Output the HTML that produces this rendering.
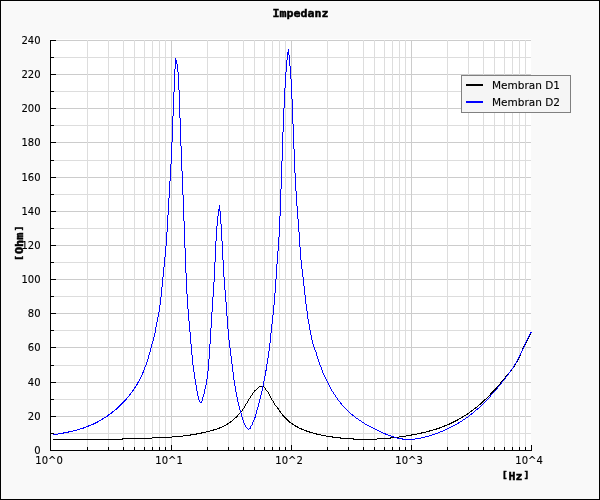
<!DOCTYPE html>
<html><head><meta charset="utf-8"><title>Impedanz</title>
<style>
html,body{margin:0;padding:0;background:#f9f9f9;}
body{width:600px;height:500px;overflow:hidden;}
svg{display:block;}
.tk{font-family:"DejaVu Sans","Liberation Sans",sans-serif;font-size:10px;fill:#000;stroke:#000;stroke-width:0.12px;}
.lg{font-family:"DejaVu Sans","Liberation Sans",sans-serif;font-size:10.5px;fill:#000;stroke:#000;stroke-width:0.12px;}
.tt{font-family:"DejaVu Sans Mono","Liberation Mono",monospace;font-weight:bold;font-size:11px;fill:#000;stroke:#000;stroke-width:0.45px;}
.bk{font-size:9.4px;}
</style></head><body>
<svg width="600" height="500" viewBox="0 0 600 500">
<rect x="0" y="0" width="600" height="500" fill="#f9f9f9"/>
<rect x="50" y="39" width="481" height="412" fill="#ffffff"/>

<g shape-rendering="crispEdges" stroke-width="1" fill="none">
<line x1="51" x2="531" y1="433.5" y2="433.5" stroke="#dddddd"/>
<line x1="51" x2="531" y1="416.5" y2="416.5" stroke="#cccccc"/>
<line x1="51" x2="531" y1="399.5" y2="399.5" stroke="#dddddd"/>
<line x1="51" x2="531" y1="382.5" y2="382.5" stroke="#cccccc"/>
<line x1="51" x2="531" y1="365.5" y2="365.5" stroke="#dddddd"/>
<line x1="51" x2="531" y1="347.5" y2="347.5" stroke="#cccccc"/>
<line x1="51" x2="531" y1="330.5" y2="330.5" stroke="#dddddd"/>
<line x1="51" x2="531" y1="313.5" y2="313.5" stroke="#cccccc"/>
<line x1="51" x2="531" y1="296.5" y2="296.5" stroke="#dddddd"/>
<line x1="51" x2="531" y1="279.5" y2="279.5" stroke="#cccccc"/>
<line x1="51" x2="531" y1="262.5" y2="262.5" stroke="#dddddd"/>
<line x1="51" x2="531" y1="245.5" y2="245.5" stroke="#cccccc"/>
<line x1="51" x2="531" y1="228.5" y2="228.5" stroke="#dddddd"/>
<line x1="51" x2="531" y1="211.5" y2="211.5" stroke="#cccccc"/>
<line x1="51" x2="531" y1="194.5" y2="194.5" stroke="#dddddd"/>
<line x1="51" x2="531" y1="177.5" y2="177.5" stroke="#cccccc"/>
<line x1="51" x2="531" y1="160.5" y2="160.5" stroke="#dddddd"/>
<line x1="51" x2="531" y1="142.5" y2="142.5" stroke="#cccccc"/>
<line x1="51" x2="531" y1="125.5" y2="125.5" stroke="#dddddd"/>
<line x1="51" x2="531" y1="108.5" y2="108.5" stroke="#cccccc"/>
<line x1="51" x2="531" y1="91.5" y2="91.5" stroke="#dddddd"/>
<line x1="51" x2="531" y1="74.5" y2="74.5" stroke="#cccccc"/>
<line x1="51" x2="531" y1="57.5" y2="57.5" stroke="#dddddd"/>
<line x1="51" x2="531" y1="40.5" y2="40.5" stroke="#cccccc"/>
<line y1="40" y2="450" x1="87.5" x2="87.5" stroke="#dddddd"/>
<line y1="40" y2="450" x1="108.5" x2="108.5" stroke="#dddddd"/>
<line y1="40" y2="450" x1="123.5" x2="123.5" stroke="#dddddd"/>
<line y1="40" y2="450" x1="134.5" x2="134.5" stroke="#dddddd"/>
<line y1="40" y2="450" x1="144.5" x2="144.5" stroke="#dddddd"/>
<line y1="40" y2="450" x1="152.5" x2="152.5" stroke="#dddddd"/>
<line y1="40" y2="450" x1="159.5" x2="159.5" stroke="#dddddd"/>
<line y1="40" y2="450" x1="165.5" x2="165.5" stroke="#dddddd"/>
<line y1="40" y2="450" x1="171.5" x2="171.5" stroke="#cccccc"/>
<line y1="40" y2="450" x1="207.5" x2="207.5" stroke="#dddddd"/>
<line y1="40" y2="450" x1="228.5" x2="228.5" stroke="#dddddd"/>
<line y1="40" y2="450" x1="243.5" x2="243.5" stroke="#dddddd"/>
<line y1="40" y2="450" x1="254.5" x2="254.5" stroke="#dddddd"/>
<line y1="40" y2="450" x1="264.5" x2="264.5" stroke="#dddddd"/>
<line y1="40" y2="450" x1="272.5" x2="272.5" stroke="#dddddd"/>
<line y1="40" y2="450" x1="279.5" x2="279.5" stroke="#dddddd"/>
<line y1="40" y2="450" x1="285.5" x2="285.5" stroke="#dddddd"/>
<line y1="40" y2="450" x1="291.5" x2="291.5" stroke="#cccccc"/>
<line y1="40" y2="450" x1="327.5" x2="327.5" stroke="#dddddd"/>
<line y1="40" y2="450" x1="348.5" x2="348.5" stroke="#dddddd"/>
<line y1="40" y2="450" x1="363.5" x2="363.5" stroke="#dddddd"/>
<line y1="40" y2="450" x1="374.5" x2="374.5" stroke="#dddddd"/>
<line y1="40" y2="450" x1="384.5" x2="384.5" stroke="#dddddd"/>
<line y1="40" y2="450" x1="392.5" x2="392.5" stroke="#dddddd"/>
<line y1="40" y2="450" x1="399.5" x2="399.5" stroke="#dddddd"/>
<line y1="40" y2="450" x1="405.5" x2="405.5" stroke="#dddddd"/>
<line y1="40" y2="450" x1="411.5" x2="411.5" stroke="#cccccc"/>
<line y1="40" y2="450" x1="447.5" x2="447.5" stroke="#dddddd"/>
<line y1="40" y2="450" x1="468.5" x2="468.5" stroke="#dddddd"/>
<line y1="40" y2="450" x1="483.5" x2="483.5" stroke="#dddddd"/>
<line y1="40" y2="450" x1="494.5" x2="494.5" stroke="#dddddd"/>
<line y1="40" y2="450" x1="504.5" x2="504.5" stroke="#dddddd"/>
<line y1="40" y2="450" x1="512.5" x2="512.5" stroke="#dddddd"/>
<line y1="40" y2="450" x1="519.5" x2="519.5" stroke="#dddddd"/>
<line y1="40" y2="450" x1="525.5" x2="525.5" stroke="#dddddd"/>
</g>
<path d="M53.5 439v1M54.5 439v1M55.5 439v1M56.5 439v1M57.5 439v1M58.5 439v1M59.5 439v1M60.5 439v1M61.5 439v1M62.5 439v1M63.5 439v1M64.5 439v1M65.5 439v1M66.5 439v1M67.5 439v1M68.5 439v1M69.5 439v1M70.5 439v1M71.5 439v1M72.5 439v1M73.5 439v1M74.5 439v1M75.5 439v1M76.5 439v1M77.5 439v1M78.5 439v1M79.5 439v1M80.5 439v1M81.5 439v1M82.5 439v1M83.5 439v1M84.5 439v1M85.5 439v1M86.5 439v1M87.5 439v1M88.5 439v1M89.5 439v1M90.5 439v1M91.5 439v1M92.5 439v1M93.5 439v1M94.5 439v1M95.5 439v1M96.5 439v1M97.5 439v1M98.5 439v1M99.5 439v1M100.5 439v1M101.5 439v1M102.5 439v1M103.5 439v1M104.5 439v1M105.5 439v1M106.5 439v1M107.5 439v1M108.5 439v1M109.5 439v1M110.5 439v1M111.5 439v1M112.5 439v1M113.5 439v1M114.5 439v1M115.5 439v1M116.5 439v1M117.5 439v1M118.5 439v1M119.5 439v1M120.5 439v1M121.5 439v1M122.5 438v2M123.5 438v1M124.5 438v1M125.5 438v1M126.5 438v1M127.5 438v1M128.5 438v1M129.5 438v1M130.5 438v1M131.5 438v1M132.5 438v1M133.5 438v1M134.5 438v1M135.5 438v1M136.5 438v1M137.5 438v1M138.5 438v1M139.5 438v1M140.5 438v1M141.5 438v1M142.5 438v1M143.5 438v1M144.5 438v1M145.5 438v1M146.5 438v1M147.5 438v1M148.5 438v1M149.5 438v1M150.5 438v1M151.5 438v1M152.5 437v1M153.5 437v1M154.5 437v1M155.5 437v1M156.5 437v1M157.5 437v1M158.5 437v1M159.5 437v1M160.5 437v1M161.5 437v1M162.5 437v1M163.5 437v1M164.5 437v1M165.5 437v1M166.5 437v1M167.5 437v1M168.5 437v1M169.5 437v1M170.5 437v1M171.5 437v1M172.5 436v1M173.5 436v1M174.5 436v1M175.5 436v1M176.5 436v1M177.5 436v1M178.5 436v1M179.5 436v1M180.5 436v1M181.5 436v1M182.5 436v1M183.5 435v1M184.5 435v1M185.5 435v1M186.5 435v1M187.5 435v1M188.5 435v1M189.5 435v1M190.5 434v2M191.5 434v1M192.5 434v1M193.5 434v1M194.5 434v1M195.5 434v1M196.5 433v2M197.5 433v1M198.5 433v1M199.5 433v1M200.5 433v1M201.5 432v2M202.5 432v1M203.5 432v1M204.5 432v1M205.5 432v1M206.5 431v1M207.5 431v1M208.5 431v1M209.5 431v1M210.5 430v1M211.5 430v1M212.5 430v1M213.5 429v2M214.5 429v1M215.5 429v1M216.5 429v1M217.5 428v1M218.5 428v1M219.5 427v2M220.5 427v1M221.5 427v1M222.5 426v1M223.5 426v1M224.5 425v1M225.5 425v1M226.5 424v1M227.5 423v2M228.5 423v1M229.5 422v1M230.5 421v2M231.5 421v1M232.5 420v1M233.5 419v1M234.5 418v1M235.5 417v1M236.5 416v2M237.5 415v2M238.5 414v1M239.5 413v1M240.5 412v1M241.5 411v1M242.5 409v2M243.5 408v1M244.5 406v2M245.5 404v2M246.5 403v1M247.5 401v2M248.5 399v2M249.5 398v1M250.5 396v2M251.5 395v1M252.5 393v2M253.5 392v1M254.5 390v2M255.5 390v1M256.5 389v1M257.5 388v1M258.5 387v1M259.5 386v1M260.5 386v1M261.5 386v1M262.5 386v1M263.5 386v1M264.5 387v1M265.5 388v2M266.5 390v1M267.5 391v1M268.5 392v2M269.5 394v2M270.5 396v2M271.5 398v2M272.5 400v1M273.5 401v2M274.5 403v2M275.5 405v1M276.5 406v1M277.5 407v2M278.5 408v2M279.5 410v2M280.5 411v2M281.5 413v1M282.5 414v2M283.5 415v2M284.5 416v2M285.5 417v2M286.5 418v2M287.5 419v2M288.5 420v2M289.5 421v2M290.5 422v1M291.5 423v1M292.5 423v2M293.5 424v1M294.5 425v1M295.5 425v2M296.5 426v1M297.5 426v2M298.5 427v1M299.5 428v1M300.5 428v1M301.5 428v2M302.5 429v1M303.5 429v1M304.5 430v1M305.5 430v1M306.5 430v2M307.5 431v1M308.5 431v1M309.5 431v2M310.5 432v1M311.5 432v1M312.5 432v1M313.5 433v1M314.5 433v1M315.5 433v1M316.5 433v2M317.5 434v1M318.5 434v1M319.5 434v1M320.5 434v1M321.5 435v1M322.5 435v1M323.5 435v1M324.5 435v1M325.5 435v1M326.5 436v1M327.5 436v1M328.5 436v1M329.5 436v1M330.5 436v1M331.5 436v1M332.5 436v2M333.5 437v1M334.5 437v1M335.5 437v1M336.5 437v1M337.5 437v1M338.5 437v1M339.5 437v1M340.5 437v2M341.5 438v1M342.5 438v1M343.5 438v1M344.5 438v1M345.5 438v1M346.5 438v1M347.5 438v1M348.5 438v1M349.5 438v1M350.5 438v1M351.5 438v1M352.5 438v1M353.5 438v2M354.5 439v1M355.5 439v1M356.5 439v1M357.5 439v1M358.5 439v1M359.5 439v1M360.5 439v1M361.5 439v1M362.5 439v1M363.5 439v1M364.5 439v1M365.5 439v1M366.5 439v1M367.5 439v1M368.5 439v1M369.5 439v1M370.5 439v1M371.5 439v1M372.5 439v1M373.5 439v1M374.5 439v1M375.5 439v1M376.5 439v1M377.5 438v1M378.5 438v1M379.5 438v1M380.5 438v1M381.5 438v1M382.5 438v1M383.5 438v1M384.5 438v1M385.5 438v1M386.5 438v1M387.5 438v1M388.5 438v1M389.5 438v1M390.5 437v2M391.5 437v1M392.5 437v1M393.5 437v1M394.5 437v1M395.5 437v1M396.5 437v1M397.5 437v1M398.5 437v1M399.5 436v1M400.5 436v1M401.5 436v1M402.5 436v1M403.5 436v1M404.5 436v1M405.5 436v1M406.5 435v1M407.5 435v1M408.5 435v1M409.5 435v1M410.5 435v1M411.5 434v2M412.5 434v1M413.5 434v1M414.5 434v1M415.5 434v1M416.5 434v1M417.5 433v1M418.5 433v1M419.5 433v1M420.5 433v1M421.5 432v2M422.5 432v1M423.5 432v1M424.5 432v1M425.5 432v1M426.5 431v1M427.5 431v1M428.5 431v1M429.5 430v2M430.5 430v1M431.5 430v1M432.5 430v1M433.5 429v1M434.5 429v1M435.5 429v1M436.5 428v2M437.5 428v1M438.5 428v1M439.5 427v2M440.5 427v1M441.5 427v1M442.5 426v1M443.5 426v1M444.5 425v2M445.5 425v1M446.5 425v1M447.5 424v1M448.5 424v1M449.5 423v2M450.5 423v1M451.5 422v2M452.5 422v1M453.5 421v2M454.5 421v1M455.5 420v2M456.5 420v1M457.5 419v2M458.5 419v1M459.5 418v1M460.5 418v1M461.5 417v1M462.5 416v2M463.5 416v1M464.5 415v1M465.5 415v1M466.5 414v1M467.5 413v2M468.5 413v1M469.5 412v1M470.5 411v1M471.5 410v2M472.5 410v1M473.5 409v1M474.5 408v1M475.5 407v2M476.5 407v1M477.5 406v1M478.5 405v1M479.5 404v1M480.5 403v2M481.5 402v2M482.5 401v2M483.5 400v2M484.5 399v2M485.5 399v1M486.5 398v1M487.5 397v1M488.5 396v1M489.5 395v1M490.5 393v2M491.5 392v2M492.5 391v2M493.5 390v2M494.5 389v2M495.5 388v2M496.5 387v2M497.5 386v1M498.5 385v1M499.5 384v1M500.5 382v2M501.5 381v2M502.5 380v2M503.5 379v2M504.5 378v1M505.5 376v2M506.5 375v2M507.5 374v2M508.5 373v2M509.5 372v1M510.5 370v2M511.5 369v2M512.5 368v1M513.5 366v2M514.5 365v2M515.5 363v2M516.5 361v2M517.5 359v3M518.5 357v3M519.5 355v3M520.5 353v3M521.5 351v2M522.5 348v3M523.5 346v3M524.5 344v3M525.5 342v3M526.5 340v3M527.5 339v2M528.5 337v2M529.5 335v2M530.5 332v3M531.5 332v1" fill="none" stroke="#000000" stroke-width="1" shape-rendering="crispEdges"/>
<path d="M53.5 434v1M54.5 434v1M55.5 434v1M56.5 434v1M57.5 434v1M58.5 433v1M59.5 433v1M60.5 433v1M61.5 433v1M62.5 433v1M63.5 432v2M64.5 432v1M65.5 432v1M66.5 432v1M67.5 432v1M68.5 431v2M69.5 431v1M70.5 431v1M71.5 431v1M72.5 431v1M73.5 430v1M74.5 430v1M75.5 430v1M76.5 430v1M77.5 429v1M78.5 429v1M79.5 429v1M80.5 428v1M81.5 428v1M82.5 428v1M83.5 427v2M84.5 427v1M85.5 427v1M86.5 426v1M87.5 426v1M88.5 425v2M89.5 425v1M90.5 425v1M91.5 424v1M92.5 424v1M93.5 423v2M94.5 423v1M95.5 422v2M96.5 422v1M97.5 421v2M98.5 421v1M99.5 420v1M100.5 420v1M101.5 419v1M102.5 418v2M103.5 418v1M104.5 417v1M105.5 417v1M106.5 416v1M107.5 415v2M108.5 414v2M109.5 414v1M110.5 413v1M111.5 412v2M112.5 411v2M113.5 411v1M114.5 410v1M115.5 409v1M116.5 408v2M117.5 407v2M118.5 406v2M119.5 405v2M120.5 404v2M121.5 403v2M122.5 402v2M123.5 401v2M124.5 400v2M125.5 399v2M126.5 398v2M127.5 397v1M128.5 396v1M129.5 394v2M130.5 393v2M131.5 392v1M132.5 390v2M133.5 389v2M134.5 387v2M135.5 386v2M136.5 384v2M137.5 382v3M138.5 381v2M139.5 379v2M140.5 377v2M141.5 375v2M142.5 372v3M143.5 370v3M144.5 367v3M145.5 365v2M146.5 362v3M147.5 359v3M148.5 355v4M149.5 352v3M150.5 348v4M151.5 344v4M152.5 341v3M153.5 337v4M154.5 333v4M155.5 327v6M156.5 322v5M157.5 317v5M158.5 312v5M159.5 305v7M160.5 297v8M161.5 287v10M162.5 277v10M163.5 267v10M164.5 257v10M165.5 246v11M166.5 232v14M167.5 215v17M168.5 198v17M169.5 181v17M170.5 164v17M171.5 142v22M172.5 116v26M173.5 92v24M174.5 69v23M175.5 58v11M176.5 60v4M177.5 64v8M178.5 72v18M179.5 90v28M180.5 118v28M181.5 146v25M182.5 171v24M183.5 195v26M184.5 221v27M185.5 248v25M186.5 273v21M187.5 294v15M188.5 309v12M189.5 321v11M190.5 332v12M191.5 344v11M192.5 355v10M193.5 365v7M194.5 372v7M195.5 379v6M196.5 385v6M197.5 391v5M198.5 396v4M199.5 400v2M200.5 402v1M201.5 401v2M202.5 397v4M203.5 394v3M204.5 389v5M205.5 385v4M206.5 379v6M207.5 371v8M208.5 359v12M209.5 344v15M210.5 328v16M211.5 312v16M212.5 297v15M213.5 282v15M214.5 262v20M215.5 241v21M216.5 226v15M217.5 216v10M218.5 209v7M219.5 205v6M220.5 211v13M221.5 224v17M222.5 241v19M223.5 260v17M224.5 277v13M225.5 290v12M226.5 302v14M227.5 316v13M228.5 329v11M229.5 340v8M230.5 348v8M231.5 356v8M232.5 364v8M233.5 372v8M234.5 380v6M235.5 386v6M236.5 392v5M237.5 397v5M238.5 402v4M239.5 406v4M240.5 410v3M241.5 413v4M242.5 417v3M243.5 420v3M244.5 423v2M245.5 425v2M246.5 427v1M247.5 428v1M248.5 429v1M249.5 428v1M250.5 426v3M251.5 425v1M252.5 422v3M253.5 420v2M254.5 417v3M255.5 414v4M256.5 410v4M257.5 407v3M258.5 403v4M259.5 399v4M260.5 395v4M261.5 391v4M262.5 386v5M263.5 381v5M264.5 376v5M265.5 370v6M266.5 364v7M267.5 358v6M268.5 351v7M269.5 343v8M270.5 333v10M271.5 324v9M272.5 315v9M273.5 305v10M274.5 293v12M275.5 279v14M276.5 264v15M277.5 251v13M278.5 237v14M279.5 216v21M280.5 189v27M281.5 161v28M282.5 132v29M283.5 108v24M284.5 88v20M285.5 72v16M286.5 60v12M287.5 52v8M288.5 49v6M289.5 55v11M290.5 66v13M291.5 79v20M292.5 99v25M293.5 124v25M294.5 149v24M295.5 173v18M296.5 191v15M297.5 206v13M298.5 219v13M299.5 232v15M300.5 247v13M301.5 260v9M302.5 269v8M303.5 277v9M304.5 286v9M305.5 295v9M306.5 304v7M307.5 311v8M308.5 319v5M309.5 324v6M310.5 330v5M311.5 335v5M312.5 340v4M313.5 344v3M314.5 347v3M315.5 350v2M316.5 352v4M317.5 356v3M318.5 359v3M319.5 362v3M320.5 365v2M321.5 367v3M322.5 370v3M323.5 373v2M324.5 375v2M325.5 377v2M326.5 379v2M327.5 381v2M328.5 383v2M329.5 385v2M330.5 387v2M331.5 389v2M332.5 391v1M333.5 392v2M334.5 394v1M335.5 395v2M336.5 397v1M337.5 398v2M338.5 400v1M339.5 401v1M340.5 402v2M341.5 403v2M342.5 405v1M343.5 406v1M344.5 407v1M345.5 408v1M346.5 409v1M347.5 410v1M348.5 411v1M349.5 412v1M350.5 413v1M351.5 414v1M352.5 414v2M353.5 415v1M354.5 416v1M355.5 417v1M356.5 418v1M357.5 418v1M358.5 419v1M359.5 420v1M360.5 420v1M361.5 421v1M362.5 422v1M363.5 422v1M364.5 423v1M365.5 424v1M366.5 424v1M367.5 425v1M368.5 425v1M369.5 426v1M370.5 426v1M371.5 427v1M372.5 427v1M373.5 428v1M374.5 428v1M375.5 429v1M376.5 429v1M377.5 430v1M378.5 430v1M379.5 431v1M380.5 431v1M381.5 432v1M382.5 432v1M383.5 433v1M384.5 433v1M385.5 433v2M386.5 434v1M387.5 434v1M388.5 435v1M389.5 435v1M390.5 435v1M391.5 436v1M392.5 436v1M393.5 436v1M394.5 437v1M395.5 437v1M396.5 437v1M397.5 438v1M398.5 438v1M399.5 438v1M400.5 438v1M401.5 438v1M402.5 438v2M403.5 439v1M404.5 439v1M405.5 439v1M406.5 439v1M407.5 439v1M408.5 439v1M409.5 439v1M410.5 439v1M411.5 439v1M412.5 439v1M413.5 439v1M414.5 439v1M415.5 438v1M416.5 438v1M417.5 438v1M418.5 438v1M419.5 438v1M420.5 438v1M421.5 437v1M422.5 437v1M423.5 437v1M424.5 437v1M425.5 436v1M426.5 436v1M427.5 436v1M428.5 436v1M429.5 435v1M430.5 435v1M431.5 435v1M432.5 434v1M433.5 434v1M434.5 434v1M435.5 433v1M436.5 433v1M437.5 433v1M438.5 432v1M439.5 432v1M440.5 431v1M441.5 431v1M442.5 431v1M443.5 430v1M444.5 430v1M445.5 429v1M446.5 429v1M447.5 428v1M448.5 428v1M449.5 427v1M450.5 427v1M451.5 426v1M452.5 426v1M453.5 425v1M454.5 425v1M455.5 424v1M456.5 424v1M457.5 423v1M458.5 422v2M459.5 422v1M460.5 421v1M461.5 421v1M462.5 420v1M463.5 419v1M464.5 419v1M465.5 418v1M466.5 417v1M467.5 417v1M468.5 416v1M469.5 415v1M470.5 414v1M471.5 413v2M472.5 413v1M473.5 412v1M474.5 411v1M475.5 410v1M476.5 409v1M477.5 408v2M478.5 408v1M479.5 407v1M480.5 406v1M481.5 405v1M482.5 404v1M483.5 403v1M484.5 402v1M485.5 401v1M486.5 400v1M487.5 399v1M488.5 398v1M489.5 397v1M490.5 395v2M491.5 394v1M492.5 393v1M493.5 392v1M494.5 391v1M495.5 390v1M496.5 389v1M497.5 387v2M498.5 386v1M499.5 385v1M500.5 384v1M501.5 382v2M502.5 381v1M503.5 380v1M504.5 379v1M505.5 377v2M506.5 376v1M507.5 375v1M508.5 373v2M509.5 372v1M510.5 370v2M511.5 369v1M512.5 368v1M513.5 366v2M514.5 364v2M515.5 363v1M516.5 361v2M517.5 359v2M518.5 357v2M519.5 355v2M520.5 353v2M521.5 351v2M522.5 349v2M523.5 347v2M524.5 344v3M525.5 342v2M526.5 340v2M527.5 338v2M528.5 336v2M529.5 334v2M530.5 332v2M531.5 332v1" fill="none" stroke="#0000ff" stroke-width="1" shape-rendering="crispEdges"/>
<g shape-rendering="crispEdges" stroke="#000" stroke-width="1" fill="none">
<line x1="50.5" x2="50.5" y1="40" y2="451"/>
<line x1="50" x2="532" y1="450.5" y2="450.5"/>
<line x1="50" x2="56" y1="450.5" y2="450.5"/>
<line x1="50" x2="54" y1="433.5" y2="433.5"/>
<line x1="50" x2="56" y1="416.5" y2="416.5"/>
<line x1="50" x2="54" y1="399.5" y2="399.5"/>
<line x1="50" x2="56" y1="382.5" y2="382.5"/>
<line x1="50" x2="54" y1="365.5" y2="365.5"/>
<line x1="50" x2="56" y1="347.5" y2="347.5"/>
<line x1="50" x2="54" y1="330.5" y2="330.5"/>
<line x1="50" x2="56" y1="313.5" y2="313.5"/>
<line x1="50" x2="54" y1="296.5" y2="296.5"/>
<line x1="50" x2="56" y1="279.5" y2="279.5"/>
<line x1="50" x2="54" y1="262.5" y2="262.5"/>
<line x1="50" x2="56" y1="245.5" y2="245.5"/>
<line x1="50" x2="54" y1="228.5" y2="228.5"/>
<line x1="50" x2="56" y1="211.5" y2="211.5"/>
<line x1="50" x2="54" y1="194.5" y2="194.5"/>
<line x1="50" x2="56" y1="177.5" y2="177.5"/>
<line x1="50" x2="54" y1="160.5" y2="160.5"/>
<line x1="50" x2="56" y1="142.5" y2="142.5"/>
<line x1="50" x2="54" y1="125.5" y2="125.5"/>
<line x1="50" x2="56" y1="108.5" y2="108.5"/>
<line x1="50" x2="54" y1="91.5" y2="91.5"/>
<line x1="50" x2="56" y1="74.5" y2="74.5"/>
<line x1="50" x2="54" y1="57.5" y2="57.5"/>
<line x1="50" x2="56" y1="40.5" y2="40.5"/>
<line y1="447" y2="451" x1="87.5" x2="87.5"/>
<line y1="447" y2="451" x1="108.5" x2="108.5"/>
<line y1="447" y2="451" x1="123.5" x2="123.5"/>
<line y1="447" y2="451" x1="134.5" x2="134.5"/>
<line y1="447" y2="451" x1="144.5" x2="144.5"/>
<line y1="447" y2="451" x1="152.5" x2="152.5"/>
<line y1="447" y2="451" x1="159.5" x2="159.5"/>
<line y1="447" y2="451" x1="165.5" x2="165.5"/>
<line y1="445" y2="451" x1="171.5" x2="171.5"/>
<line y1="447" y2="451" x1="207.5" x2="207.5"/>
<line y1="447" y2="451" x1="228.5" x2="228.5"/>
<line y1="447" y2="451" x1="243.5" x2="243.5"/>
<line y1="447" y2="451" x1="254.5" x2="254.5"/>
<line y1="447" y2="451" x1="264.5" x2="264.5"/>
<line y1="447" y2="451" x1="272.5" x2="272.5"/>
<line y1="447" y2="451" x1="279.5" x2="279.5"/>
<line y1="447" y2="451" x1="285.5" x2="285.5"/>
<line y1="445" y2="451" x1="291.5" x2="291.5"/>
<line y1="447" y2="451" x1="327.5" x2="327.5"/>
<line y1="447" y2="451" x1="348.5" x2="348.5"/>
<line y1="447" y2="451" x1="363.5" x2="363.5"/>
<line y1="447" y2="451" x1="374.5" x2="374.5"/>
<line y1="447" y2="451" x1="384.5" x2="384.5"/>
<line y1="447" y2="451" x1="392.5" x2="392.5"/>
<line y1="447" y2="451" x1="399.5" x2="399.5"/>
<line y1="447" y2="451" x1="405.5" x2="405.5"/>
<line y1="445" y2="451" x1="411.5" x2="411.5"/>
<line y1="447" y2="451" x1="447.5" x2="447.5"/>
<line y1="447" y2="451" x1="468.5" x2="468.5"/>
<line y1="447" y2="451" x1="483.5" x2="483.5"/>
<line y1="447" y2="451" x1="494.5" x2="494.5"/>
<line y1="447" y2="451" x1="504.5" x2="504.5"/>
<line y1="447" y2="451" x1="512.5" x2="512.5"/>
<line y1="447" y2="451" x1="519.5" x2="519.5"/>
<line y1="447" y2="451" x1="525.5" x2="525.5"/>
<line y1="445" y2="451" x1="531.5" x2="531.5"/>
</g>
<text class="tk" x="40.6" y="454" text-anchor="end">0</text>
<text class="tk" x="40.6" y="420" text-anchor="end">20</text>
<text class="tk" x="40.6" y="386" text-anchor="end">40</text>
<text class="tk" x="40.6" y="351" text-anchor="end">60</text>
<text class="tk" x="40.6" y="317" text-anchor="end">80</text>
<text class="tk" x="40.6" y="283" text-anchor="end">100</text>
<text class="tk" x="40.6" y="249" text-anchor="end">120</text>
<text class="tk" x="40.6" y="215" text-anchor="end">140</text>
<text class="tk" x="40.6" y="181" text-anchor="end">160</text>
<text class="tk" x="40.6" y="146" text-anchor="end">180</text>
<text class="tk" x="40.6" y="112" text-anchor="end">200</text>
<text class="tk" x="40.6" y="78" text-anchor="end">220</text>
<text class="tk" x="40.6" y="44" text-anchor="end">240</text>
<text class="tk" x="35.3" y="464">10^0</text>
<text class="tk" x="155.3" y="464">10^1</text>
<text class="tk" x="275.3" y="464">10^2</text>
<text class="tk" x="395.3" y="464">10^3</text>
<text class="tk" x="515.3" y="464">10^4</text>
<text class="tt" x="272.5" y="17" textLength="56" lengthAdjust="spacingAndGlyphs">Impedanz</text>
<text class="tt" transform="translate(501.8,479.6) scale(1.055,1)" x="0" y="0"><tspan class="bk" dy="-1.2">[</tspan><tspan x="6.4" dy="1.2">Hz</tspan><tspan class="bk" x="20.6" dy="-1.2">]</tspan></text>
<text class="tt" transform="translate(22.8,261) rotate(-90) scale(1.085,1)" x="0" y="0"><tspan class="bk" dy="-1.2">[</tspan><tspan x="6.4" dy="1.2">Ohm</tspan><tspan class="bk" x="27.2" dy="-1.2">]</tspan></text>
<g>
<rect x="461.5" y="75.5" width="109" height="37" fill="#f5f5f5" stroke="#808080" stroke-width="1" shape-rendering="crispEdges"/>
<line x1="466" x2="483" y1="85" y2="85" stroke="#000" stroke-width="2" shape-rendering="crispEdges"/>
<line x1="466" x2="483" y1="102" y2="102" stroke="#0000ff" stroke-width="2" shape-rendering="crispEdges"/>
<text class="lg" x="492" y="89">Membran D1</text>
<text class="lg" x="492" y="106">Membran D2</text>
</g>
<rect x="0.5" y="0.5" width="599" height="499" fill="none" stroke="#000" stroke-width="1" shape-rendering="crispEdges"/>
</svg></body></html>
